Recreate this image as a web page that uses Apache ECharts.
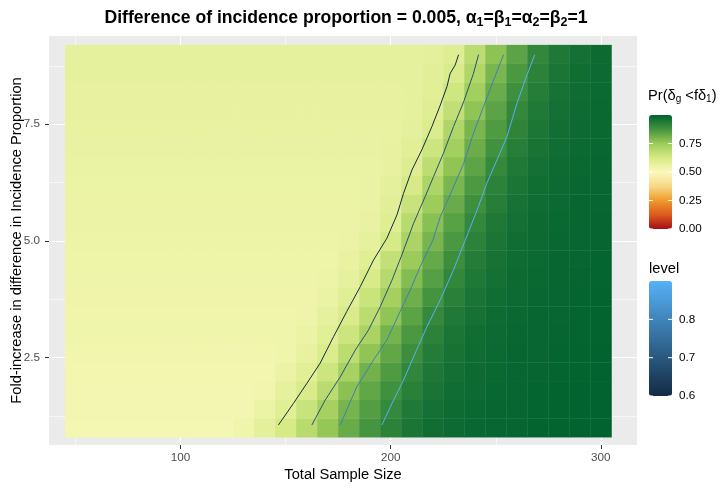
<!DOCTYPE html>
<html>
<head>
<meta charset="utf-8">
<title>Difference of incidence proportion</title>
<script src="https://cdn.jsdelivr.net/npm/echarts@6.0.0/dist/echarts.min.js"></script>
<style>
  html, body { margin: 0; padding: 0; background: #fff; }
  #main { width: 721px; height: 490px; }
</style>
</head>
<body>
<div id="main"></div>
<script>
// tile centres
const sampleSize = [50, 60, 70, 80, 90, 100, 110, 120, 130, 140, 150, 160, 170, 180, 190, 200, 210, 220, 230, 240, 250, 260, 270, 280, 290, 300];
const fold = [1.0, 1.4, 1.8, 2.2, 2.6, 3.0, 3.4, 3.8, 4.2, 4.6, 5.0, 5.4, 5.8, 6.2, 6.6, 7.0, 7.4, 7.8, 8.2, 8.6, 9.0];

// Pr(delta_g < f delta_1), one row per fold value (bottom row first), one column per sample size
const prob = [
  [.520, .520, .520, .520, .520, .520, .520, .520, .537, .577, .626, .689, .760, .823, .874, .919, .951, .968, .978, .983, .987, .989, .992, .993, .994, .995],
  [.523, .523, .523, .523, .523, .523, .523, .523, .523, .553, .592, .655, .727, .803, .853, .902, .941, .963, .975, .981, .986, .988, .991, .993, .994, .995],
  [.525, .525, .525, .525, .525, .525, .525, .525, .525, .532, .568, .615, .687, .773, .833, .882, .925, .954, .970, .978, .984, .987, .990, .992, .994, .995],
  [.528, .528, .528, .528, .528, .528, .528, .528, .528, .528, .548, .585, .646, .724, .809, .860, .909, .945, .965, .976, .982, .987, .989, .991, .993, .994],
  [.530, .530, .530, .530, .530, .530, .530, .530, .530, .530, .533, .564, .608, .682, .766, .834, .890, .933, .958, .973, .980, .985, .988, .990, .992, .994],
  [.533, .533, .533, .533, .533, .533, .533, .533, .533, .533, .533, .551, .586, .645, .717, .804, .865, .918, .950, .968, .977, .983, .987, .989, .991, .993],
  [.535, .535, .535, .535, .535, .535, .535, .535, .535, .535, .535, .540, .568, .613, .680, .766, .840, .901, .940, .962, .975, .981, .986, .988, .991, .993],
  [.538, .538, .538, .538, .538, .538, .538, .538, .538, .538, .538, .538, .554, .589, .651, .728, .814, .875, .923, .953, .970, .978, .984, .987, .990, .992],
  [.540, .540, .540, .540, .540, .540, .540, .540, .540, .540, .540, .540, .545, .570, .619, .693, .784, .851, .908, .944, .964, .976, .982, .986, .989, .991],
  [.543, .543, .543, .543, .543, .543, .543, .543, .543, .543, .543, .543, .543, .557, .592, .665, .750, .827, .889, .933, .958, .973, .980, .985, .988, .990],
  [.545, .545, .545, .545, .545, .545, .545, .545, .545, .545, .545, .545, .545, .549, .570, .624, .716, .801, .866, .919, .950, .968, .978, .983, .987, .989],
  [.548, .548, .548, .548, .548, .548, .548, .548, .548, .548, .548, .548, .548, .548, .558, .594, .689, .776, .845, .905, .943, .964, .976, .981, .986, .989],
  [.550, .550, .550, .550, .550, .550, .550, .550, .550, .550, .550, .550, .550, .550, .555, .582, .652, .744, .822, .884, .930, .957, .972, .979, .985, .988],
  [.553, .553, .553, .553, .553, .553, .553, .553, .553, .553, .553, .553, .553, .553, .555, .572, .622, .711, .797, .864, .918, .950, .968, .978, .983, .987],
  [.555, .555, .555, .555, .555, .555, .555, .555, .555, .555, .555, .555, .555, .555, .555, .564, .597, .678, .765, .839, .903, .942, .963, .975, .981, .986],
  [.558, .558, .558, .558, .558, .558, .558, .558, .558, .558, .558, .558, .558, .558, .558, .563, .583, .644, .735, .818, .881, .928, .955, .971, .979, .984],
  [.560, .560, .560, .560, .560, .560, .560, .560, .560, .560, .560, .560, .560, .560, .560, .561, .573, .609, .705, .798, .860, .914, .948, .967, .977, .982],
  [.563, .563, .563, .563, .563, .563, .563, .563, .563, .563, .563, .563, .563, .563, .563, .563, .570, .593, .670, .766, .842, .904, .942, .963, .975, .981],
  [.565, .565, .565, .565, .565, .565, .565, .565, .565, .565, .565, .565, .565, .565, .565, .565, .569, .585, .639, .734, .820, .886, .932, .957, .972, .979],
  [.568, .568, .568, .568, .568, .568, .568, .568, .568, .568, .568, .568, .568, .568, .568, .568, .570, .582, .615, .706, .797, .865, .919, .950, .968, .978],
  [.570, .570, .570, .570, .570, .570, .570, .570, .570, .570, .570, .570, .570, .570, .570, .570, .570, .578, .595, .680, .768, .842, .906, .943, .964, .976]
];

// contour lines [sample size, fold]
const contourLevels = [0.6, 0.7, 0.8, 0.9];
const contour60 = [[146.6, 1.06], [153.7, 1.52], [160.1, 1.95], [166.4, 2.38], [172.8, 2.95], [179.1, 3.49], [185.5, 4.02], [191.8, 4.59], [198.2, 5.06], [203.0, 5.56], [206.1, 6.02], [210.1, 6.52], [214.8, 6.95], [219.6, 7.45], [223.6, 7.91], [226.8, 8.31], [228.3, 8.59], [230.7, 8.77], [232.3, 8.99]];
const contour70 = [[162.5, 1.06], [168.8, 1.59], [176.0, 2.09], [183.1, 2.66], [189.4, 3.09], [195.0, 3.59], [200.6, 4.16], [205.3, 4.70], [210.9, 5.38], [216.4, 5.95], [220.4, 6.38], [225.1, 6.88], [229.9, 7.45], [234.7, 7.98], [239.4, 8.59], [241.8, 8.99]];
const contour80 = [[176.0, 1.06], [183.9, 1.88], [191.8, 2.45], [198.2, 2.88], [204.5, 3.49], [209.3, 3.95], [214.0, 4.45], [220.1, 5.02], [223.6, 5.52], [229.9, 6.16], [234.7, 6.66], [239.4, 7.31], [244.2, 7.88], [249.0, 8.45], [253.7, 8.99]];
const contour90 = [[195.8, 1.06], [200.6, 1.52], [206.1, 2.02], [210.9, 2.52], [217.2, 3.16], [223.6, 3.74], [229.9, 4.38], [235.5, 5.02], [241.1, 5.66], [245.8, 6.24], [250.6, 6.74], [255.3, 7.23], [260.1, 7.95], [264.0, 8.45], [268.5, 8.99]];
const contourColors = ['#132B43', '#28507A', '#3D80B5', '#56B1F7'];

// axis breaks and legend breaks
const xBreaks = [100, 200, 300];
const xMinor = [50, 150, 250];
const yBreaks = [2.5, 5.0, 7.5];
const yMinor = [1.25, 3.75, 6.25, 8.75];
const fillBreaks = [0, 0.25, 0.5, 0.75];
const levelBreaks = [0.6, 0.7, 0.8];

const FONT = 'Liberation Sans';
const fillColors = ['#A50F15', '#DC5A1E', '#EE9B2A', '#F6D987', '#FAF9BA', '#D6EA86', '#9BCB58', '#44943F', '#00612F'];

const tiles = [];
fold.forEach((f, i) => {
  sampleSize.forEach((n, j) => {
    tiles.push([n, f, prob[i][j]]);
  });
});
const halfW = (sampleSize[1] - sampleSize[0]) / 2;
const halfH = (fold[1] - fold[0]) / 2;

// legend bars (pixel layout)
const fillBar = { x: 649, y: 115, w: 23, h: 114, min: 0, max: 1 };
const levelBar = { x: 649, y: 281, w: 23, h: 115, min: 0.6, max: 0.9 };

function legendBits(bar, breaks, digits) {
  const out = [];
  breaks.forEach(v => {
    const y = bar.y + bar.h * (1 - (v - bar.min) / (bar.max - bar.min));
    out.push({ type: 'line', silent: true, z: 10, shape: { x1: bar.x, y1: y, x2: bar.x + 4, y2: y }, style: { stroke: '#fff', lineWidth: 1 } });
    out.push({ type: 'line', silent: true, z: 10, shape: { x1: bar.x + bar.w - 4, y1: y, x2: bar.x + bar.w, y2: y }, style: { stroke: '#fff', lineWidth: 1 } });
    out.push({ type: 'text', silent: true, x: bar.x + bar.w + 7, y: y, style: { text: v.toFixed(digits), fill: '#000', font: '11.7px ' + FONT, verticalAlign: 'middle' } });
  });
  return out;
}

const gridLines = [];
xMinor.forEach(v => gridLines.push({ xAxis: v, lineStyle: { width: 0.55 } }));
xBreaks.forEach(v => gridLines.push({ xAxis: v, lineStyle: { width: 1.1 } }));
yMinor.forEach(v => gridLines.push({ yAxis: v, lineStyle: { width: 0.55 } }));
yBreaks.forEach(v => gridLines.push({ yAxis: v, lineStyle: { width: 1.1 } }));

const contours = [contour60, contour70, contour80, contour90];

const chart = echarts.init(document.getElementById('main'));

const option = {
  animation: false,
  backgroundColor: '#fff',
  textStyle: { fontFamily: FONT },
  title: {
    left: 341,
    top: 2,
    textAlign: 'center',
    text: '{b|Difference of incidence proportion = 0.005, }{g|α}{s|1}{g|=β}{s|1}{g|=α}{s|2}{g|=β}{s|2}{g|=1}',
    textStyle: {
      rich: {
        b: { fontFamily: FONT, fontWeight: 'bold', fontSize: 17.6, color: '#000' },
        g: { fontFamily: FONT, fontSize: 17.6, color: '#000' },
        s: { fontFamily: FONT, fontSize: 12.5, color: '#000', padding: [9, 0, 0, 0] }
      }
    }
  },
  grid: {
    left: 49, right: 84, top: 36, bottom: 45,
    outerBoundsMode: 'none',
    containLabel: false,
    show: true, backgroundColor: '#EBEBEB', borderWidth: 0
  },
  xAxis: {
    type: 'value',
    min: 37.4, max: 317.2,
    name: 'Total Sample Size',
    nameLocation: 'middle',
    nameGap: 22,
    nameMoveOverlap: false,
    nameTextStyle: { fontSize: 14.67, color: '#000', fontFamily: FONT },
    axisLine: { show: false },
    axisTick: { show: true, length: 4, customValues: xBreaks, lineStyle: { color: '#333', width: 1 } },
    axisLabel: { customValues: xBreaks, margin: 7, fontSize: 11.7, color: '#4D4D4D', fontFamily: FONT },
    splitLine: { show: false }
  },
  yAxis: {
    type: 'value',
    min: 0.63, max: 9.39,
    name: 'Fold-increase in difference in Incidence Proportion',
    nameLocation: 'middle',
    nameGap: 25,
    nameMoveOverlap: false,
    nameTextStyle: { fontSize: 14.67, color: '#000', fontFamily: FONT },
    axisLine: { show: false },
    axisTick: { show: true, length: 4, customValues: yBreaks, lineStyle: { color: '#333', width: 1 } },
    axisLabel: { customValues: yBreaks, margin: 9, fontSize: 11.7, color: '#4D4D4D', fontFamily: FONT, formatter: v => Number(v).toFixed(1) },
    splitLine: { show: false }
  },
  visualMap: [
    {
      type: 'continuous',
      seriesIndex: 1,
      dimension: 2,
      min: fillBar.min, max: fillBar.max,
      calculable: false,
      hoverLink: false,
      left: fillBar.x, top: fillBar.y,
      itemWidth: fillBar.w, itemHeight: fillBar.h,
      padding: 0,
      text: null,
      inRange: { color: fillColors }
    },
    {
      type: 'continuous',
      seriesIndex: [],
      min: levelBar.min, max: levelBar.max,
      calculable: false,
      hoverLink: false,
      left: levelBar.x, top: levelBar.y,
      itemWidth: levelBar.w, itemHeight: levelBar.h,
      padding: 0,
      text: null,
      inRange: { color: [contourColors[0], contourColors[3]] }
    }
  ],
  graphic: [
    {
      type: 'text', silent: true, left: 648, top: 88,
      style: {
        text: '{n|Pr(δ}{s|g}{n| <fδ}{s|1}{n|)}',
        rich: {
          n: { fontFamily: FONT, fontSize: 14.67, fill: '#000' },
          s: { fontFamily: FONT, fontSize: 10, fill: '#000', padding: [7, 0, 0, 0] }
        }
      }
    },
    {
      type: 'text', silent: true, left: 649, top: 261,
      style: { text: 'level', font: '14.67px ' + FONT, fill: '#000' }
    }
  ].concat(legendBits(fillBar, fillBreaks, 2), legendBits(levelBar, levelBreaks, 1)),
  series: [
    {
      // panel grid lines, kept under the tiles
      type: 'line',
      data: [],
      silent: true,
      markLine: {
        z: 1,
        silent: true,
        symbol: 'none',
        animation: false,
        label: { show: false },
        lineStyle: { color: '#fff', type: 'solid' },
        data: gridLines
      }
    },
    {
      type: 'custom',
      z: 2,
      silent: true,
      encode: { x: 0, y: 1 },
      data: tiles,
      renderItem: function (params, api) {
        const x = api.value(0);
        const y = api.value(1);
        const a = api.coord([x - halfW, y + halfH]);
        const b = api.coord([x + halfW, y - halfH]);
        return {
          type: 'rect',
          shape: { x: a[0], y: a[1], width: b[0] - a[0] + 0.4, height: b[1] - a[1] + 0.4 },
          style: { fill: api.visual('color') }
        };
      }
    }
  ].concat(contours.map((c, k) => ({
    type: 'line',
    name: String(contourLevels[k]),
    data: c,
    z: 3,
    silent: true,
    symbol: 'none',
    showSymbol: false,
    lineStyle: { color: contourColors[k], width: 1 }
  })))
};

chart.setOption(option);
</script>
</body>
</html>
